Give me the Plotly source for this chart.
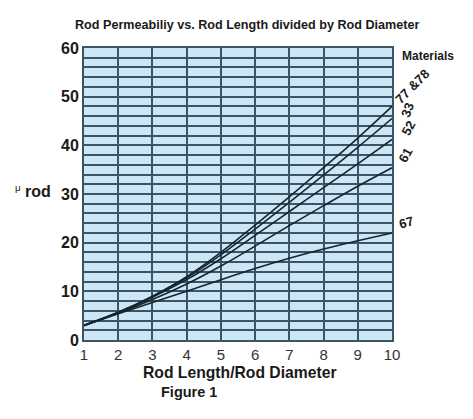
import plotly.graph_objects as go

x_vals = [1, 2, 3, 4, 5, 6, 7, 8, 9, 10]
mat_77_78 = [3.0, 5.7, 9.0, 13.0, 18.0, 23.6, 29.4, 35.4, 41.5, 48.0]
mat_33 = [3.0, 5.7, 8.9, 12.8, 17.5, 22.8, 28.3, 33.9, 39.6, 45.5]
mat_52 = [3.0, 5.6, 8.8, 12.4, 16.7, 21.5, 26.4, 31.3, 36.2, 41.2]
mat_61 = [3.0, 5.5, 8.3, 11.5, 15.2, 19.3, 23.5, 27.6, 31.6, 35.4]
mat_67 = [3.0, 5.4, 7.7, 10.0, 12.4, 14.7, 16.8, 18.7, 20.4, 22.0]
series = [mat_77_78, mat_33, mat_52, mat_61, mat_67]
y_ticks = [0, 10, 20, 30, 40, 50, 60]
x_ticks = [1, 2, 3, 4, 5, 6, 7, 8, 9, 10]

labels = [("77 &78", 48.0, -45, 412, 86), ("33", 45.5, -70, 407, 110),
          ("52", 41.2, -62, 408, 128), ("61", 35.4, -62, 405, 155),
          ("67", 22.0, -15, 406, 222)]

FONT = "Liberation Sans, Arial, sans-serif"
GRID = "#3b5566"

fig = go.Figure()
for s in series:
    fig.add_trace(go.Scatter(x=x_vals, y=s, mode="lines", line=dict(color="#17262e", width=1.6, shape="spline"),
                             showlegend=False, hoverinfo="skip"))

fig.update_layout(
    width=473, height=419,
    margin=dict(l=84, r=81, t=48, b=79),
    paper_bgcolor="white", plot_bgcolor="#cde6f6",
    font=dict(family=FONT, color="#1a1a1a"),
    showlegend=False,
)
fig.update_xaxes(range=[1, 10], tickvals=x_ticks, showgrid=True, gridcolor=GRID, gridwidth=1.5,
                 zeroline=False, showline=True, mirror=True, linecolor=GRID, linewidth=2,
                 tickfont=dict(size=15, family=FONT, color="#333"))
fig.update_yaxes(range=[0, 60], tickvals=y_ticks, showgrid=True, gridcolor=GRID, gridwidth=1.5,
                 minor=dict(dtick=2, showgrid=True, gridcolor=GRID, gridwidth=1.5),
                 zeroline=False, showline=True, mirror=True, linecolor=GRID, linewidth=2,
                 tickfont=dict(size=16, family=FONT, color="#1a1a1a", weight="bold"))

ann = []
ann.append(dict(text="<b>Rod Permeabiliy vs. Rod Length divided by Rod Diameter</b>", xref="paper", yref="paper",
                x=0.53, y=1.0, xanchor="center", yanchor="middle", yshift=23, showarrow=False,
                font=dict(size=12.6, family=FONT)))
ann.append(dict(text="<b>Rod Length/Rod Diameter</b>", xref="paper", yref="paper", x=0.505, y=0,
                xanchor="center", yanchor="middle", yshift=-32,
                showarrow=False, font=dict(size=15.7, family=FONT)))
ann.append(dict(text="<b>Figure 1</b>", xref="paper", yref="paper", x=0.34, y=0,
                xanchor="center", yanchor="middle", yshift=-52,
                showarrow=False, font=dict(size=14.5, family=FONT)))
ann.append(dict(text="<span style='font-size:14px'><sup>μ</sup></span> <b>rod</b>", xref="paper", yref="paper",
                x=0, xshift=-31, y=0.5, yshift=3, xanchor="right", yanchor="middle",
                showarrow=False, font=dict(size=16, family=FONT)))
ann.append(dict(text="<b>Materials</b>", xref="paper", yref="paper", x=1.0, xshift=8, y=1.0, yshift=-8,
                xanchor="left", yanchor="middle", showarrow=False, font=dict(size=12, family=FONT)))
for txt, yv, ang, px, py in labels:
    ann.append(dict(text="<b>" + txt + "</b>", xref="x", yref="y", x=10, y=yv, xanchor="center", yanchor="middle",
                    xshift=px - 392, yshift=(340 - 4.867 * yv) - py, showarrow=False, textangle=ang,
                    font=dict(size=13, family=FONT)))
fig.update_layout(annotations=ann)

fig.write_html("out.html", config={"displayModeBar": False},
               post_script="document.body.style.margin='0';")
